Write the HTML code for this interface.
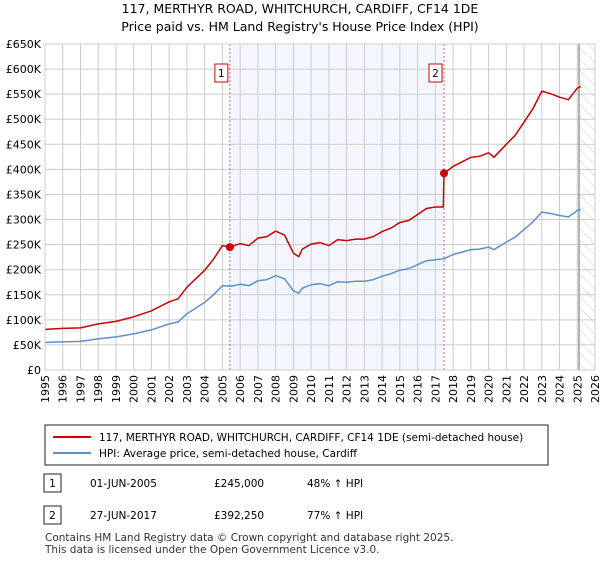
<!DOCTYPE html>
<html><head><meta charset="utf-8"><style>
body{margin:0;background:#fff;font-family:"Liberation Sans","DejaVu Sans",sans-serif;color:#222}
</style></head><body>
<svg width="600" height="560" xmlns="http://www.w3.org/2000/svg" style="font-family:'DejaVu Sans','Liberation Sans',sans-serif">
<defs><pattern id="hatch" width="8" height="8" patternUnits="userSpaceOnUse" patternTransform="rotate(-45)"><line x1="0" y1="0" x2="0" y2="8" stroke="#ccc" stroke-width="1"/></pattern></defs>
<text x="300" y="13" text-anchor="middle" font-size="12.5">117, MERTHYR ROAD, WHITCHURCH, CARDIFF, CF14 1DE</text>
<text x="300" y="31" text-anchor="middle" font-size="12.5">Price paid vs. HM Land Registry's House Price Index (HPI)</text>
<g id="plot"></g>
<rect x="45" y="425" width="503" height="40" fill="#fff" stroke="#222"/>
<line x1="53" y1="437" x2="91" y2="437" stroke="#cc0000" stroke-width="2"/>
<text x="99" y="441" font-size="10.5">117, MERTHYR ROAD, WHITCHURCH, CARDIFF, CF14 1DE (semi-detached house)</text>
<line x1="53" y1="453" x2="91" y2="453" stroke="#5b8fd0" stroke-width="2"/>
<text x="99" y="457" font-size="10.5">HPI: Average price, semi-detached house, Cardiff</text>
<rect x="44" y="474" width="17" height="18" fill="#fff" stroke="#222"/>
<text x="52.5" y="487" font-size="10.5" text-anchor="middle">1</text>
<text x="90" y="487" font-size="10.5">01-JUN-2005</text>
<text x="214" y="487" font-size="10.5">£245,000</text>
<text x="307" y="487" font-size="10.5">48% ↑ HPI</text>
<rect x="44" y="506" width="17" height="18" fill="#fff" stroke="#222"/>
<text x="52.5" y="519" font-size="10.5" text-anchor="middle">2</text>
<text x="90" y="519" font-size="10.5">27-JUN-2017</text>
<text x="214" y="519" font-size="10.5">£392,250</text>
<text x="307" y="519" font-size="10.5">77% ↑ HPI</text>
<text x="45" y="541" font-size="10.5" fill="#333">Contains HM Land Registry data © Crown copyright and database right 2025.</text>
<text x="45" y="553" font-size="10.5" fill="#333">This data is licensed under the Open Government Licence v3.0.</text>
</svg>
<script>
const hpiYears=[1995,1996,1997,1998,1999,2000,2001,2002,2002.5,2003,2004,2004.5,2005,2005.5,2006,2006.5,2007,2007.5,2008,2008.5,2009,2009.3,2009.5,2010,2010.5,2011,2011.5,2012,2012.5,2013,2013.5,2014,2014.5,2015,2015.5,2016,2016.5,2017,2017.5,2018,2018.5,2019,2019.5,2020,2020.3,2021,2021.5,2022,2022.5,2023,2023.5,2024,2024.5,2025,2025.2];
const hpiValues=[55,56,57,62,66,72,80,92,96,112,135,150,168,167,171,168,178,180,188,182,158,153,163,170,172,168,176,175,177,177,180,187,192,199,202,210,218,220,222,230,235,240,241,245,240,255,265,280,295,315,312,308,305,318,320];
const propYears=[1995,1996,1997,1998,1999,2000,2001,2002,2002.5,2003,2004,2004.5,2005,2005.42,2005.5,2006,2006.5,2007,2007.5,2008,2008.5,2009,2009.3,2009.5,2010,2010.5,2011,2011.5,2012,2012.5,2013,2013.5,2014,2014.5,2015,2015.5,2016,2016.5,2017,2017.45,2017.49,2018,2018.5,2019,2019.5,2020,2020.3,2021,2021.5,2022,2022.5,2023,2023.5,2024,2024.5,2025,2025.2];
const propValues=[81,83,84,92,97,106,118,136,142,165,199,221,248,245,246,252,248,263,266,277,269,233,226,241,251,254,248,260,258,261,261,266,276,283,294,298,310,322,325,325,392,406,415,424,426,433,424,450,468,494,521,556,551,544,539,562,565];
const saleYears=[2005.42,2017.49];
const saleValues=[245,392.25];
const saleLabels=["1","2"];
const yTicks=[0,50,100,150,200,250,300,350,400,450,500,550,600,650];
const yTickLabels=["£0","£50K","£100K","£150K","£200K","£250K","£300K","£350K","£400K","£450K","£500K","£550K","£600K","£650K"];
const xTicks=[1995,1996,1997,1998,1999,2000,2001,2002,2003,2004,2005,2006,2007,2008,2009,2010,2011,2012,2013,2014,2015,2016,2017,2018,2019,2020,2021,2022,2023,2024,2025,2026];
const dataEnd=2025.1;

const X0=45,X1=595,Y0=370,Y1=44;
const x=v=>X0+(v-1995)/(2026-1995)*(X1-X0);
const y=v=>Y0-v/650*(Y0-Y1);
const NS="http://www.w3.org/2000/svg";
const g=document.getElementById('plot');
function mk(t,a){const e=document.createElementNS(NS,t);for(const k in a)e.setAttribute(k,a[k]);g.appendChild(e);return e;}
let e;
e=mk('rect',{x:x(saleYears[0]),y:Y1,width:x(saleYears[1])-x(saleYears[0]),height:Y0-Y1,fill:'#eef3fc',opacity:0.7});


e=mk('rect',{x:x(dataEnd),y:Y1,width:X1-x(dataEnd),height:Y0-Y1,fill:'url(#hatch)'});


yTicks.forEach((t,i)=>{
  e=mk('line',{x1:X0,x2:X1,y1:y(t),y2:y(t),stroke:'#ccc'});
  
  
  e=mk('text',{x:X0-4,y:y(t)+4,'text-anchor':'end','font-size':'11'});e.textContent=yTickLabels[i];
  
  
});
xTicks.forEach(t=>{
  e=mk('line',{x1:x(t),x2:x(t),y1:Y1,y2:Y0,stroke:'#ccc'});
  
  
  e=mk('text',{x:0,y:0,'text-anchor':'end','font-size':'11',transform:`translate(${x(t)+4},${Y0+5}) rotate(-90)`});e.textContent=t;
  
  
});
e=mk('line',{x1:x(dataEnd),x2:x(dataEnd),y1:Y1,y2:Y0,stroke:'#999','stroke-width':1.5});


saleYears.forEach((s,i)=>{
  e=mk('line',{x1:x(s),x2:x(s),y1:Y1,y2:Y0,stroke:'#e06060','stroke-dasharray':'2,2'});
  
  
});
const path=(xs,vs)=>xs.map((v,i)=>(i?'L':'M')+x(v).toFixed(1)+','+y(vs[i]).toFixed(1)).join('');
e=mk('path',{d:path(hpiYears,hpiValues),fill:'none',stroke:'#5b8fd0','stroke-width':1.5});


e=mk('path',{d:path(propYears,propValues),fill:'none',stroke:'#cc0000','stroke-width':1.5});


saleYears.forEach((s,i)=>{
  e=mk('circle',{cx:x(s),cy:y(saleValues[i]),r:4,fill:'#cc0000'});
  
  
  e=mk('rect',{x:x(s)-15,y:64,width:13,height:18,fill:'#fff',stroke:'#cc0000'});
  
  
  e=mk('text',{x:x(s)-8.5,y:77,'text-anchor':'middle','font-size':'10.5'});e.textContent=saleLabels[i];
  
  
});
e=mk('rect',{x:X0,y:Y1,width:X1-X0,height:Y0-Y1,fill:'none',stroke:'#ccc'});


</script>
</body></html>
